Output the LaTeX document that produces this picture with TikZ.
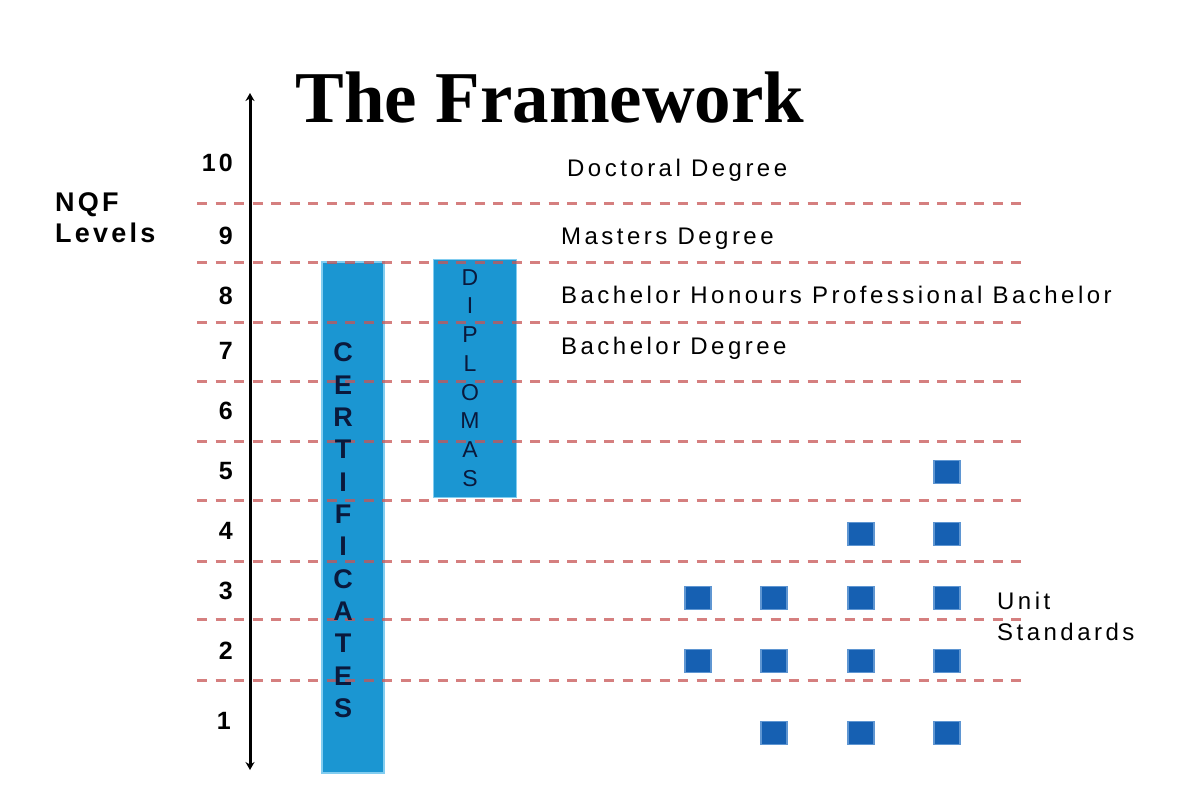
\documentclass[tikz,border=0pt]{standalone}
\usepackage{fontspec}
\setmainfont{Liberation Sans}
\newfontfamily\titlefont{Liberation Serif}
\newfontfamily\spaced[LetterSpace=14.5]{Liberation Sans}
\newfontfamily\spacedb[LetterSpace=12]{Liberation Sans}
\usetikzlibrary{arrows.meta}
\definecolor{barblue}{RGB}{27,150,210}
\definecolor{baredge}{RGB}{130,205,240}
\definecolor{sqblue}{RGB}{22,96,178}
\definecolor{sqedge}{RGB}{95,150,210}
\definecolor{dashred}{RGB}{200,85,85}
\definecolor{navy}{RGB}{10,25,60}
\begin{document}
\begin{tikzpicture}[x=1pt,y=-1pt,
  lvl/.style={anchor=base east,font=\fontsize{25}{30}\selectfont\spacedb\bfseries,inner sep=0},
  deg/.style={anchor=base west,font=\fontsize{24}{28}\selectfont\spaced,inner sep=0},
  nqf/.style={anchor=base west,font=\fontsize{27}{30}\selectfont\spacedb\bfseries,inner sep=0},
  bar/.style={fill=barblue,draw=baredge,line width=1.5pt,inner sep=0},
  sq/.style={fill=sqblue,draw=sqedge,line width=1.5pt,minimum width=26pt,minimum height=23pt,inner sep=0},
  levelline/.style={draw=dashred,opacity=.75,line width=3pt,dash pattern=on 10pt off 8.5pt},
  certl/.style={anchor=base,font=\fontsize{27}{30}\selectfont\bfseries,text=navy,inner sep=0},
  dipl/.style={anchor=base,font=\fontsize{23}{27}\selectfont,text=navy,inner sep=0},
  axis/.style={line width=3pt,{Stealth[length=8pt,width=9pt]}-{Stealth[length=8pt,width=9pt]}}]
\useasboundingbox (0,0) rectangle (1196,790);
\fill[white] (0,0) rectangle (1196,790);
% bars
\node[bar,minimum width=62pt,minimum height=511pt] (cert) at (353,517.5) {};
\node[bar,minimum width=83pt,minimum height=238pt] (dipbar) at (475,378.5) {};
% dashed level lines
\foreach \yy in {203,262,322,381,441,500,561,619,680}
  \draw[levelline] (197,\yy) -- (1026,\yy);
% axis
\coordinate (axtop) at (250,93);
\coordinate (axbot) at (250,770);
\draw[axis] (axtop) -- (axbot);
% title
\node[anchor=base,font=\fontsize{73}{80}\selectfont\titlefont\bfseries,inner sep=0] (title) at (550,122) {The Framework};
% NQF label
\node[nqf] (nqf) at (55,211.7) {NQF};
\node[nqf] (levels) at (55,242.7) {Levels};
% level numbers
\node[lvl] (l10) at (233,171.5) {10};
\node[lvl] (l9) at (233,244) {9};
\node[lvl] (l8) at (233,304) {8};
\node[lvl] (l7) at (233,359) {7};
\node[lvl] (l6) at (233,419) {6};
\node[lvl] (l5) at (233,479) {5};
\node[lvl] (l4) at (233,539) {4};
\node[lvl] (l3) at (233,599) {3};
\node[lvl] (l2) at (233,659) {2};
\node[lvl] (l1) at (231,729) {1};
% degrees
\node[deg] (doc) at (567,176.5) {Doctoral Degree};
\node[deg] (mas) at (561,244.5) {Masters Degree};
\node[deg] (hon) at (561,303) {Bachelor Honours Professional Bachelor};
\node[deg] (bach) at (561,354.5) {Bachelor Degree};
\node[deg] (unit) at (997,609.5) {Unit};
\node[deg] (stand) at (997,640.5) {Standards};
% bar letters
\foreach \l [count=\i] in {C,E,R,T,I,F,I,C,A,T,E,S}
  \node[certl] (c\i) at (343,{352+9.7+(\i-1)*32.36}) {\l};
\foreach \l [count=\i] in {D,I,P,L,O,M,A,S}
  \node[dipl] (d\i) at (470,{277+8.2+(\i-1)*28.7}) {\l};
% unit standard squares
\node[sq] (s54) at (947,472) {};
\node[sq] (s43) at (861,534) {};
\node[sq] (s44) at (947,534) {};
\node[sq] (s31) at (698,598) {};
\node[sq] (s32) at (774,598) {};
\node[sq] (s33) at (861,598) {};
\node[sq] (s34) at (947,598) {};
\node[sq] (s21) at (698,661) {};
\node[sq] (s22) at (774,661) {};
\node[sq] (s23) at (861,661) {};
\node[sq] (s24) at (947,661) {};
\node[sq] (s12) at (774,733) {};
\node[sq] (s13) at (861,733) {};
\node[sq] (s14) at (947,733) {};
\end{tikzpicture}
\end{document}
